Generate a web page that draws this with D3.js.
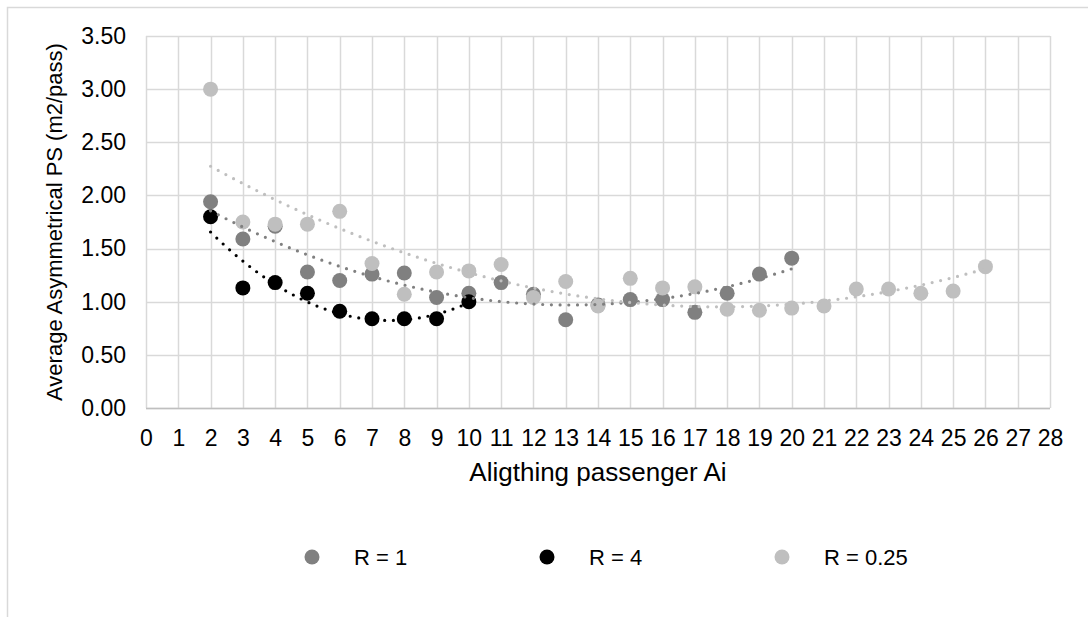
<!DOCTYPE html>
<html>
<head>
<meta charset="utf-8">
<script src="https://cdn.jsdelivr.net/npm/d3@7"></script>
<style>
  body { margin: 0; background: #fff; }
  text { font-family: "Liberation Sans", Arial, sans-serif; fill: #000; }
</style>
</head>
<body>
<script>
// Chart data.
var xR1 = [2, 3, 4, 5, 6, 7, 8, 9, 10, 11, 12, 13, 14, 15, 16, 17, 18, 19, 20]
var yR1 = [1.94, 1.59, 1.71, 1.28, 1.20, 1.26, 1.27, 1.04, 1.08, 1.18, 1.07, 0.83, 0.97, 1.02, 1.02, 0.90, 1.08, 1.26, 1.41]
var xR4 = [2, 3, 4, 5, 6, 7, 8, 9, 10]
var yR4 = [1.80, 1.13, 1.18, 1.08, 0.91, 0.84, 0.84, 0.84, 1.00]
var xR025 = [2, 3, 4, 5, 6, 7, 8, 9, 10, 11, 12, 13, 14, 15, 16, 17, 18, 19, 20, 21, 22, 23, 24, 25, 26]
var yR025 = [3.00, 1.75, 1.73, 1.73, 1.85, 1.36, 1.07, 1.28, 1.29, 1.35, 1.04, 1.19, 0.96, 1.22, 1.13, 1.14, 0.93, 0.92, 0.94, 0.96, 1.12, 1.12, 1.08, 1.10, 1.33]
var seriesNames = ['R = 1', 'R = 4', 'R = 0.25']
var yTicks = [0, 0.5, 1, 1.5, 2, 2.5, 3, 3.5]
var xTicks = d3.range(0, 29)

function main() {
    var width = 1088, height = 617
    var left = 146, right = 1050, top = 36, bottom = 408
    var colors = ['#808080', '#000000', '#bfbfbf']
    var font = 22, tickFont = 23

    var svg = d3.select('body').append('svg')
        .attr('width', width)
        .attr('height', height)

    // Chart border (runs off the right and bottom edge).
    svg.append('rect')
        .attr('x', 7.5).attr('y', 7.5)
        .attr('width', 1100).attr('height', 640)
        .attr('fill', 'none').attr('stroke', '#d9d9d9').attr('stroke-width', 1.5)

    var x = d3.scaleLinear().domain([0, 28]).range([left, right])
    var y = d3.scaleLinear().domain([0, 3.5]).range([bottom, top])

    // Grid lines.
    svg.append('g').selectAll('line').data(yTicks).enter().append('line')
        .attr('x1', left).attr('x2', right)
        .attr('y1', function (d) { return Math.round(y(d)) + 0.5 })
        .attr('y2', function (d) { return Math.round(y(d)) + 0.5 })
        .attr('stroke', '#d9d9d9').attr('stroke-width', 1.5)
    svg.append('g').selectAll('line').data(xTicks).enter().append('line')
        .attr('y1', top).attr('y2', bottom)
        .attr('x1', function (d) { return Math.round(x(d)) + 0.5 })
        .attr('x2', function (d) { return Math.round(x(d)) + 0.5 })
        .attr('stroke', '#d9d9d9').attr('stroke-width', 1.5)

    // Bottom axis line.
    svg.append('line')
        .attr('x1', left).attr('x2', right)
        .attr('y1', bottom + 0.5).attr('y2', bottom + 0.5)
        .attr('stroke', '#bfbfbf').attr('stroke-width', 1.5)

    // Axes labels.
    var xAxis = d3.axisBottom(x).tickValues(xTicks).tickSize(0).tickPadding(22)
    var gx = svg.append('g').attr('transform', 'translate(0,' + bottom + ')').call(xAxis)
    var yAxis = d3.axisLeft(y).tickValues(yTicks).tickSize(0).tickPadding(20).tickFormat(d3.format('.2f'))
    var gy = svg.append('g').attr('transform', 'translate(' + left + ',0)').call(yAxis)
    ;[gx, gy].forEach(function (g) {
        g.select('.domain').remove()
        g.selectAll('text').attr('font-size', tickFont).attr('fill', '#000')
            .style('font-family', '"Liberation Sans", Arial, sans-serif')
    })

    // Axis titles.
    svg.append('text')
        .attr('x', (left + right) / 2).attr('y', 481)
        .attr('text-anchor', 'middle').attr('font-size', 26)
        .text('Aligthing passenger Ai')
    svg.append('text')
        .attr('transform', 'translate(62,' + (top + bottom) / 2 + ') rotate(-90)')
        .attr('text-anchor', 'middle').attr('font-size', font)
        .text('Average Asymmetrical PS (m2/pass)')

    var series = [
        { xs: xR1, ys: yR1 },
        { xs: xR4, ys: yR4 },
        { xs: xR025, ys: yR025 }
    ]

    // Markers.
    series.forEach(function (s, k) {
        svg.append('g').selectAll('circle').data(s.xs).enter().append('circle')
            .attr('cx', function (d) { return x(d) })
            .attr('cy', function (d, i) { return y(s.ys[i]) })
            .attr('r', 7.5)
            .attr('fill', colors[k])
    })

    // Polynomial (order 2) trend lines, drawn over the markers.
    series.forEach(function (s, k) {
        var c = quadFit(s.xs, s.ys)
        var pts = d3.range(s.xs[0], s.xs[s.xs.length - 1] + 0.001, 0.1).map(function (t) {
            return [t, c[0] + c[1] * t + c[2] * t * t]
        })
        var line = d3.line().x(function (d) { return x(d[0]) }).y(function (d) { return y(d[1]) })
        svg.append('path')
            .attr('d', line(pts))
            .attr('fill', 'none')
            .attr('stroke', colors[k])
            .attr('stroke-width', 3.2)
            .attr('stroke-linecap', 'round')
            .attr('stroke-dasharray', '0 8.7')
    })

    // Legend.
    var legendX = [312, 547, 782]
    var leg = svg.append('g').selectAll('g').data(seriesNames).enter().append('g')
        .attr('transform', function (d, i) { return 'translate(' + legendX[i] + ',557)' })
    leg.append('circle').attr('r', 7.5).attr('fill', function (d, i) { return colors[i] })
    leg.append('text').attr('x', 42).attr('y', 7.5).attr('font-size', font)
        .text(function (d) { return d })
}

// Least squares fit of y = a + b x + c x^2.
function quadFit(xs, ys) {
    var s = [0, 0, 0, 0, 0], t = [0, 0, 0]
    xs.forEach(function (xv, i) {
        for (var p = 0; p < 5; p++) s[p] += Math.pow(xv, p)
        for (var q = 0; q < 3; q++) t[q] += ys[i] * Math.pow(xv, q)
    })
    var m = [[s[0], s[1], s[2], t[0]], [s[1], s[2], s[3], t[1]], [s[2], s[3], s[4], t[2]]]
    for (var i = 0; i < 3; i++) {
        for (var j = i + 1; j < 3; j++) {
            var f = m[j][i] / m[i][i]
            for (var k = i; k < 4; k++) m[j][k] -= f * m[i][k]
        }
    }
    var r = [0, 0, 0]
    for (var i = 2; i >= 0; i--) {
        var v = m[i][3]
        for (var k = i + 1; k < 3; k++) v -= m[i][k] * r[k]
        r[i] = v / m[i][i]
    }
    return r
}

main()
</script>
</body>
</html>
